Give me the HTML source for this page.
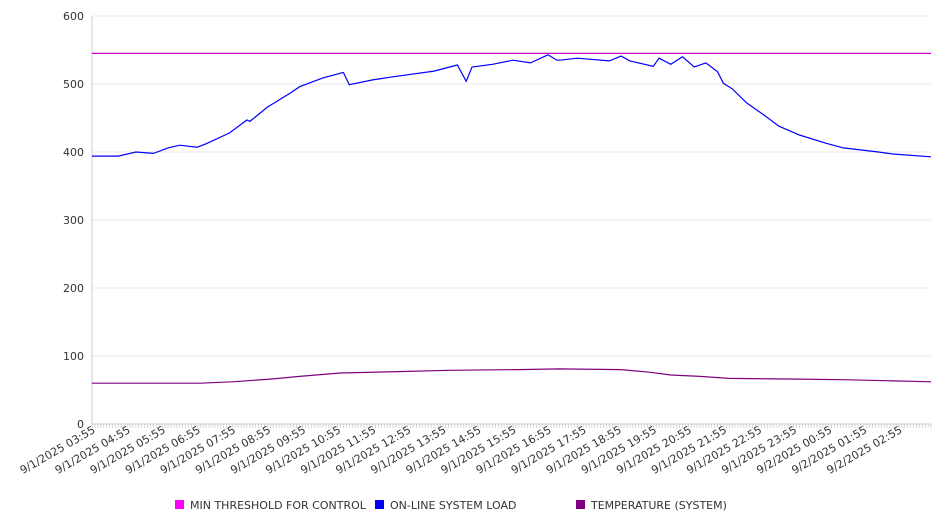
<!DOCTYPE html>
<html><head><meta charset="utf-8"><style>
body{margin:0;background:#fff;}
svg{display:block;font-family:"DejaVu Sans","Liberation Sans",sans-serif;}
</style></head><body>
<svg id="chart" width="946" height="526">
<g id="grid"></g>
<g id="yaxis"></g>
<g id="xaxis"></g>
<g id="series"></g>
<g id="legend">
<g><rect x="175" y="500" width="9" height="9" fill="#ff00ff"/><text x="190" y="509" font-size="11" fill="#333">MIN THRESHOLD FOR CONTROL</text></g>
<g><rect x="375" y="500" width="9" height="9" fill="#0000ff"/><text x="390" y="509" font-size="11" fill="#333">ON-LINE SYSTEM LOAD</text></g>
<g><rect x="576" y="500" width="9" height="9" fill="#800080"/><text x="591" y="509" font-size="11" fill="#333">TEMPERATURE (SYSTEM)</text></g>
</g>
</svg>
<script>
const xLabels=["9/1/2025 03:55","9/1/2025 04:55","9/1/2025 05:55","9/1/2025 06:55","9/1/2025 07:55","9/1/2025 08:55","9/1/2025 09:55","9/1/2025 10:55","9/1/2025 11:55","9/1/2025 12:55","9/1/2025 13:55","9/1/2025 14:55","9/1/2025 15:55","9/1/2025 16:55","9/1/2025 17:55","9/1/2025 18:55","9/1/2025 19:55","9/1/2025 20:55","9/1/2025 21:55","9/1/2025 22:55","9/1/2025 23:55","9/2/2025 00:55","9/2/2025 01:55","9/2/2025 02:55"];
const yTicks=[0,100,200,300,400,500,600];
const thresholdValue=545;
const loadIdx=[0,9,15,21,26,30,36,39,47,53,54,60,68,71,79,86,88,96,102,117,125,128,130,137,144,150,156,159,160,166,177,181,184,192,194,198,202,206,210,214,216,219,224,229,235,242,251,257,269,274,287];
const loadVal=[394,394,400,398,406,410,407,412,428,447,445,466,487,496,509,517,499,506,510,519,528,504,525,529,535,531,543,535,535,538,534,541,534,526,538,529,540,525,531,518,501,493,472,457,438,425,413,406,400,397,393];
const tempIdx=[0,37,48,61,71,85,105,122,146,160,181,191,198,208,218,242,259,287];
const tempVal=[60,60,62,66,70,75,77,79,80,81,80,76,72,70,67,66,65,62];
const N=288,x0=92,x1=931,yTop=16,yBot=424,yMax=600;
const sx=i=>x0+i*(x1-x0)/(N-1);
const sy=v=>yBot-v*(yBot-yTop)/yMax;
const NS="http://www.w3.org/2000/svg";
function mk(t,a,p){const e=document.createElementNS(NS,t);for(const k in a)e.setAttribute(k,a[k]);p.appendChild(e);return e;}
const grid=document.getElementById('grid'),ya=document.getElementById('yaxis'),xa=document.getElementById('xaxis'),se=document.getElementById('series');
yTicks.forEach(v=>{
 const l=mk('line',{x1:x0,x2:x1,y1:sy(v),y2:sy(v),stroke:v===0?'#ccc':'#e8e8e8'},grid);
 
 
 const t=mk('text',{x:84,y:sy(v)+4,'text-anchor':'end','font-size':'11',fill:'#333'},ya);
 t.textContent=v;
 
 
});
mk('line',{x1:x0,x2:x0,y1:yTop,y2:yBot,stroke:'#ccc'},ya);
let d='';for(let i=0;i<N;i++){d+='M'+sx(i).toFixed(1)+' '+yBot+'v4';}
const tk=mk('path',{d:d,stroke:'#ccc','stroke-width':'0.8'},xa);


xLabels.forEach((s,k)=>{
 const x=sx(k*12)+4,y=432;
 const t=mk('text',{x:x,y:y,'text-anchor':'end','font-size':'11',fill:'#333',transform:'rotate(-30 '+x+' '+y+')'},xa);
 t.textContent=s;
 
 
});
const th=mk('line',{x1:x0,x2:x1,y1:sy(thresholdValue),y2:sy(thresholdValue),stroke:'#cc00cc','stroke-width':'1.2'},se);


function path(idx,val,col,name){
 const p=mk('path',{d:idx.map((i,k)=>(k?'L':'M')+sx(i).toFixed(1)+' '+sy(val[k]).toFixed(1)).join(''),fill:'none',stroke:col,'stroke-width':'1.2'},se);
 
 
}
path(tempIdx,tempVal,'#800080','temperature-line');
path(loadIdx,loadVal,'#0000ff','load-line');
</script>
</body></html>
